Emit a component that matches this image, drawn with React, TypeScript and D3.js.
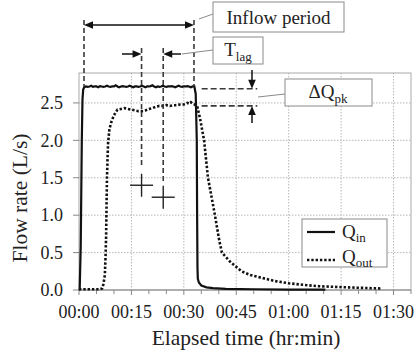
import React from "react";
import * as d3 from "d3";

// ---- Data (minutes, L/s) ----
const qinTime = [0, 0.2, 0.5, 0.8, 1.0, 1.2, 1.5, 2.0, 2.5, 3.0, 3.5, 4.0, 4.5, 5.0, 5.5, 6.0, 6.5, 7.0, 7.5, 8.0, 8.5, 9.0, 9.5, 10, 10.5, 11, 11.5, 12, 12.5, 13, 13.5, 14, 14.5, 15, 15.5, 16, 16.5, 17, 17.5, 18, 18.5, 19, 19.5, 20, 20.5, 21, 21.5, 22, 22.5, 23, 23.5, 24, 24.5, 25, 25.5, 26, 26.5, 27, 27.5, 28, 28.5, 29, 29.5, 30, 30.5, 31, 31.5, 32, 32.5, 33.0, 33.4, 33.7, 33.8, 33.9, 34.0, 34.3, 35, 36.5, 38.3, 42, 50, 60, 70.5];
const qinFlow = [0, 0.01, 0.6, 2.0, 2.55, 2.68, 2.71, 2.72, 2.715, 2.72, 2.73, 2.715, 2.72, 2.72, 2.71, 2.725, 2.72, 2.715, 2.72, 2.73, 2.72, 2.715, 2.72, 2.72, 2.735, 2.72, 2.71, 2.72, 2.725, 2.72, 2.715, 2.72, 2.73, 2.72, 2.71, 2.72, 2.72, 2.715, 2.72, 2.73, 2.72, 2.71, 2.72, 2.72, 2.725, 2.735, 2.72, 2.71, 2.72, 2.715, 2.72, 2.73, 2.72, 2.715, 2.72, 2.72, 2.725, 2.72, 2.71, 2.72, 2.73, 2.72, 2.715, 2.72, 2.72, 2.725, 2.72, 2.71, 2.72, 2.72, 2.62, 2.0, 1.0, 0.3, 0.15, 0.1, 0.06, 0.035, 0.025, 0.015, 0.01, 0.006, 0.004];

const qoutTime = [0, 3, 6.0, 6.6, 7.0, 7.4, 7.6, 7.75, 8.0, 8.3, 8.7, 9.4, 10.2, 11, 12, 13, 14, 15, 16, 17, 18, 19, 20, 21, 22, 23, 24, 25, 26, 27, 28, 29, 30, 31, 31.5, 32, 32.5, 33, 33.8, 34.6, 35.8, 36.9, 38.9, 40.1, 40.9, 43.2, 46.5, 49, 52.5, 56, 60, 64, 68.7, 74.4, 80, 86.3];
const qoutFlow = [0.01, 0.01, 0.01, 0.02, 0.08, 0.2, 0.45, 0.7, 1.5, 1.95, 2.15, 2.27, 2.35, 2.41, 2.42, 2.43, 2.42, 2.41, 2.40, 2.39, 2.39, 2.40, 2.42, 2.43, 2.45, 2.46, 2.46, 2.47, 2.46, 2.47, 2.47, 2.48, 2.48, 2.50, 2.49, 2.51, 2.49, 2.48, 2.46, 2.3, 2.0, 1.5, 1.0, 0.67, 0.5, 0.38, 0.25, 0.2, 0.16, 0.12, 0.09, 0.07, 0.05, 0.04, 0.03, 0.02];

const xTicks = [0, 15, 30, 45, 60, 75, 90];
const xTickLabels = ["00:00", "00:15", "00:30", "00:45", "01:00", "01:15", "01:30"];
const xMinorTicks = [5, 10, 20, 25, 35, 40, 50, 55, 65, 70, 80, 85, 95];
const yTicks = [0, 0.5, 1.0, 1.5, 2.0, 2.5];

// annotation values
const inflowStart = 1.43;
const inflowEnd = 32.9;
const centroidIn = [17.9, 1.40];
const centroidOut = [24.1, 1.24];
const peakIn = 2.69;
const peakOut = 2.46;

const FONT = "'Liberation Serif', 'DejaVu Serif', serif";

function arrowHead(x: number, y: number, dir: "left" | "right" | "up" | "down") {
  const L = 9, W = 3.8;
  switch (dir) {
    case "right": return `M${x},${y} L${x - L},${y - W} L${x - L},${y + W} Z`;
    case "left": return `M${x},${y} L${x + L},${y - W} L${x + L},${y + W} Z`;
    case "down": return `M${x},${y} L${x - W},${y - L} L${x + W},${y - L} Z`;
    default: return `M${x},${y} L${x - W},${y + L} L${x + W},${y + L} Z`;
  }
}

export default function App() {
  const W = 415, H = 355;
  const x = d3.scaleLinear().domain([0, 95]).range([79, 411]);
  const y = d3.scaleLinear().domain([0, 2.9]).range([290, 73]);

  const line = d3.line<[number, number]>().x(d => x(d[0])).y(d => y(d[1]));
  const qin = line(qinTime.map((t, i) => [t, qinFlow[i]] as [number, number])) || "";
  const qout = line(qoutTime.map((t, i) => [t, qoutFlow[i]] as [number, number])) || "";

  const gridC = "#b8b8b8";
  const dashC = "#3a3a3a";
  const boxC = "#8a8a8a";
  const ts = { fontFamily: FONT };

  const xL = x(inflowStart), xR = x(inflowEnd);
  const xC1 = x(centroidIn[0]), yC1 = y(centroidIn[1]);
  const xC2 = x(centroidOut[0]), yC2 = y(centroidOut[1]);
  const yP1 = y(peakIn), yP2 = y(peakOut);
  const xA = x(49.5);

  return (
    <svg width={W} height={H} style={{ position: "absolute", left: 0, top: 0, background: "#fff", fontFamily: FONT }}>
      {/* grid */}
      {yTicks.filter(v => v > 0).map(v => (
        <line key={"gy" + v} x1={x(0)} x2={x(95)} y1={y(v)} y2={y(v)} stroke={gridC} strokeWidth={1} strokeDasharray="1.5,1.5" />
      ))}
      {xTicks.filter(v => v > 0).map(v => (
        <line key={"gx" + v} x1={x(v)} x2={x(v)} y1={y(2.9)} y2={y(0)} stroke={gridC} strokeWidth={1} strokeDasharray="1.5,1.5" />
      ))}
      {/* frame */}
      <rect x={x(0)} y={y(2.9)} width={x(95) - x(0)} height={y(0) - y(2.9)} fill="none" stroke="#aaa" strokeWidth={1} />
      <line x1={x(0)} x2={x(95)} y1={y(0)} y2={y(0)} stroke="#888" strokeWidth={1.2} />
      {/* ticks */}
      {yTicks.map(v => (
        <g key={"yt" + v}>
          <line x1={x(0) - 6} x2={x(0)} y1={y(v)} y2={y(v)} stroke="#888" />
          <text style={ts} x={63} y={y(v)} dy="0.35em" textAnchor="end" fontSize={18} fill="#222">{v.toFixed(1)}</text>
        </g>
      ))}
      {xTicks.map((v, i) => (
        <g key={"xt" + v}>
          <line x1={x(v)} x2={x(v)} y1={y(0)} y2={y(0) + 5} stroke="#888" />
          <text style={ts} x={x(v)} y={318} textAnchor="middle" fontSize={18} fill="#222">{xTickLabels[i]}</text>
        </g>
      ))}
      {xMinorTicks.map(v => (
        <line key={"xm" + v} x1={x(v)} x2={x(v)} y1={y(0)} y2={y(0) + 4} stroke="#888" />
      ))}
      {/* axis titles */}
      <text style={ts} x={246} y={345} textAnchor="middle" fontSize={21.5} fill="#222">Elapsed time (hr:min)</text>
      <text style={ts} transform="translate(27,198) rotate(-90)" textAnchor="middle" fontSize={21.5} fill="#222">Flow rate (L/s)</text>

      {/* series */}
      <path d={qout} fill="none" stroke="#111" strokeWidth={2.6} strokeDasharray="2.4,1.9" />
      <path d={qin} fill="none" stroke="#111" strokeWidth={2.2} />

      {/* Inflow period annotation */}
      <line x1={xL} x2={xL} y1={20} y2={y(2.72)} stroke={dashC} strokeWidth={1.6} strokeDasharray="5,3" />
      <line x1={xR} x2={xR} y1={20} y2={y(2.72)} stroke={dashC} strokeWidth={1.6} strokeDasharray="5,3" />
      <line x1={xL + 4} x2={xR - 4} y1={25} y2={25} stroke="#111" strokeWidth={1.5} />
      <path d={arrowHead(xL, 25, "left")} fill="#111" />
      <path d={arrowHead(xR, 25, "right")} fill="#111" />
      <line x1={199} y1={19} x2={213} y2={14} stroke={boxC} strokeWidth={1} />
      <rect x={213} y={2} width={131} height={30} fill="#fff" stroke={boxC} strokeWidth={1} />
      <text style={ts} x={278.5} y={24} textAnchor="middle" fontSize={19} fill="#222">Inflow period</text>

      {/* Tlag annotation */}
      <line x1={xC1} x2={xC1} y1={48} y2={yC1 - 18} stroke={dashC} strokeWidth={1.6} strokeDasharray="5,3" />
      <line x1={xC2} x2={xC2} y1={48} y2={yC2 - 15} stroke={dashC} strokeWidth={1.6} strokeDasharray="5,3" />
      <line x1={122} x2={xC1 - 4} y1={54} y2={54} stroke="#111" strokeWidth={1.5} />
      <path d={arrowHead(xC1, 54, "right")} fill="#111" />
      <line x1={xC2 + 4} x2={181} y1={54} y2={54} stroke="#111" strokeWidth={1.5} />
      <path d={arrowHead(xC2, 54, "left")} fill="#111" />
      <line x1={182} y1={54} x2={213} y2={50} stroke={boxC} strokeWidth={1} />
      <rect x={213} y={37} width={50} height={27} fill="#fff" stroke={boxC} strokeWidth={1} />
      <text style={ts} x={238} y={56} textAnchor="middle" fontSize={19} fill="#222">T<tspan fontSize={13} dy={5}>lag</tspan></text>

      {/* centroid crosses */}
      <line x1={xC1 - 11.5} x2={xC1 + 11.5} y1={yC1} y2={yC1} stroke="#222" strokeWidth={1.4} />
      <line x1={xC1} x2={xC1} y1={yC1 - 11.5} y2={yC1 + 11.5} stroke="#222" strokeWidth={1.4} />
      <line x1={xC2 - 11.5} x2={xC2 + 11.5} y1={yC2} y2={yC2} stroke="#222" strokeWidth={1.4} />
      <line x1={xC2} x2={xC2} y1={yC2 - 11.5} y2={yC2 + 11.5} stroke="#222" strokeWidth={1.4} />

      {/* dQpk annotation */}
      <line x1={x(35.1)} x2={x(51)} y1={yP1} y2={yP1} stroke={dashC} strokeWidth={1.6} strokeDasharray="6,3" />
      <line x1={x(35.1)} x2={x(51)} y1={yP2} y2={yP2} stroke={dashC} strokeWidth={1.6} strokeDasharray="6,3" />
      <line x1={xA} x2={xA} y1={70} y2={yP1 - 4} stroke="#111" strokeWidth={1.5} />
      <path d={arrowHead(xA, yP1, "down")} fill="#111" />
      <line x1={xA} x2={xA} y1={yP2 + 4} y2={123} stroke="#111" strokeWidth={1.5} />
      <path d={arrowHead(xA, yP2, "up")} fill="#111" />
      <line x1={258} y1={97} x2={285} y2={94} stroke={boxC} strokeWidth={1} />
      <rect x={285} y={79} width={87} height={27} fill="#fff" stroke={boxC} strokeWidth={1} />
      <text style={ts} x={328} y={98} textAnchor="middle" fontSize={19} fill="#222">ΔQ<tspan fontSize={13} dy={5}>pk</tspan></text>

      {/* legend */}
      <rect x={302} y={219} width={85} height={48} fill="#fff" stroke={boxC} strokeWidth={1} />
      <line x1={307} x2={335} y1={232} y2={232} stroke="#111" strokeWidth={2.2} />
      <text style={ts} x={342} y={238} fontSize={19} fill="#222">Q<tspan fontSize={13} dy={4}>in</tspan></text>
      <line x1={307} x2={335} y1={260} y2={260} stroke="#111" strokeWidth={2.6} strokeDasharray="2.4,1.9" />
      <text style={ts} x={342} y={263} fontSize={19} fill="#222">Q<tspan fontSize={13} dy={4}>out</tspan></text>
    </svg>
  );
}
